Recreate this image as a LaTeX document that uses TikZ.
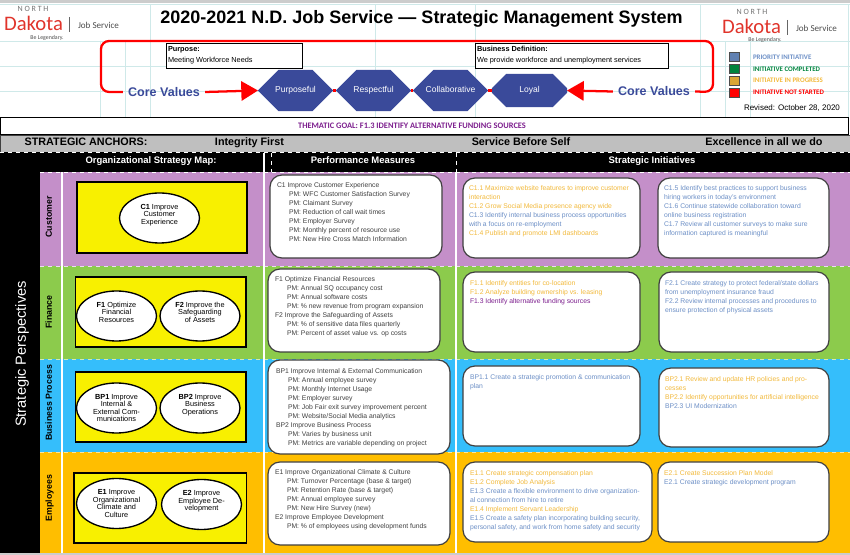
\documentclass[tikz,border=0pt]{standalone}
\usepackage{fontspec}
\setmainfont{Liberation Sans}
\newfontfamily\logofont{Carlito}
\usepackage{xcolor}
\usetikzlibrary{shapes.geometric, shapes.misc, arrows.meta, positioning}

\definecolor{gridCyan}{HTML}{CFE9E9}
\definecolor{coreBlue}{HTML}{3A4A9A}
\definecolor{logoRed}{HTML}{E0342B}
\definecolor{rowPurple}{HTML}{C48FC9}
\definecolor{rowGreen}{HTML}{8CCB4C}
\definecolor{rowBlue}{HTML}{35BEFB}
\definecolor{rowGold}{HTML}{FFBE00}
\definecolor{mapYellow}{HTML}{F8F000}
\definecolor{initBlue}{HTML}{6C8FC6}
\definecolor{initGold}{HTML}{F2B93B}
\definecolor{initGreen}{HTML}{00843D}
\definecolor{goalPurple}{HTML}{7D1F8E}
\definecolor{bandGray}{HTML}{BFBFBF}
\newcommand{\pmi}{\hspace*{9pt}PM: }
\newcommand{\gld}[1]{\textcolor{initGold}{#1}}
\newcommand{\blu}[1]{\textcolor{initBlue}{#1}}
\def\u{0.75pt}

\begin{document}
\begin{tikzpicture}[
        x=0.75pt, y=-0.75pt,
        gridline/.style={draw=gridCyan, line width=0.5pt},
        redline/.style={draw=red, line width=1.7pt},
        corehead/.style={-{Triangle[length=12.5pt, width=14.5pt]}},
        plain/.style={inner sep=0pt, outer sep=0pt},
        band/.style={plain, anchor=north west, minimum width=810*\u},
        headtext/.style={plain, text=white, text height=5.2pt, text depth=1.5pt, font=\fontsize{7.1}{8}\selectfont\bfseries},
        anchortext/.style={plain, text height=6pt, text depth=1.7pt, font=\fontsize{8.1}{9}\selectfont\bfseries},
        rowlabel/.style={plain, rotate=90, text height=4.8pt, text depth=1.4pt, font=\fontsize{6.6}{8}\selectfont\bfseries},
        mapbox/.style={plain, anchor=north west, draw=black, line width=1.2pt, fill=mapYellow},
        goal/.style={plain, ellipse, draw=black, line width=1pt, fill=white, minimum width=80*\u, minimum height=50*\u, align=center, font=\fontsize{5.5}{5.6}\selectfont},
        infobox/.style={plain, anchor=north west, draw=black!75, line width=0.9pt, fill=white, rounded corners=9pt},
        infotext/.style={plain, anchor=north west, align=left, font=\fontsize{5.1}{6.75}\selectfont},
        purposebox/.style={plain, anchor=north west, draw=black, line width=0.7pt, fill=white, minimum height=25*\u},
        corevalue/.style={plain, chamfered rectangle, chamfered rectangle xsep=10.5pt, chamfered rectangle ysep=12.4pt, fill=coreBlue, text=white, text height=4.7pt, text depth=1.4pt, minimum width=56.3pt, minimum height=24.8pt, font=\fontsize{6.4}{7}\selectfont},
        coretext/.style={plain, text=coreBlue, font=\fontsize{9.4}{11}\selectfont\bfseries},
        legendbox/.style={plain, draw=black!70, line width=0.5pt, minimum width=10*\u, minimum height=9*\u},
        legendtext/.style={plain, anchor=west, font=\logofont\fontsize{5.2}{6}\selectfont\bfseries},
        logonorth/.style={plain, text=black!55, font=\logofont\fontsize{6}{6}\selectfont},
        logoname/.style={plain, text=logoRed, font=\logofont\fontsize{15.5}{16}\selectfont},
        logojob/.style={plain, text=black!70, font=\logofont\fontsize{6.8}{8}\selectfont},
        logotag/.style={plain, text=black!70, font=\logofont\fontsize{4.4}{5}\selectfont}
    ]
    \useasboundingbox (0,0) rectangle (850,555);
    \fill[black!20] (0,0) rectangle (850,3.5);
    \fill[black!20] (0,553) rectangle (850,555);

    % Sheet grid
    \foreach \gx in {150,375,475,700}
        \draw[gridline] (\gx,4) -- (\gx,117);
    \foreach \gx in {100,125,725,750}
        \draw[gridline] (\gx,41) -- (\gx,117);
    \foreach \gy in {41,66,91}
        \draw[gridline] (0,\gy) -- (850,\gy);
    \draw[gridline] (0,4) -- (850,4);
    \draw[gridline] (848.5,4) -- (848.5,117);

    % Logos
    \node[logoname] (dakotaL) at (33.5,23) {Dakota};
    \node[logonorth] (northL) at (33,9) {N O R T H};
    \node[logojob] (jobL) at (98.5,25) {Job Service};
    \node[logotag] (legendaryL) at (47,37.5) {Be Legendary.};
    \coordinate (barLa) at (69.5,17);
    \coordinate (barLb) at (69.5,32);
    \draw[black!60, line width=0.5pt] (barLa) -- (barLb);
    \node[logoname] (dakotaR) at (751.5,26) {Dakota};
    \node[logonorth] (northR) at (752,12) {N O R T H};
    \node[logojob] (jobR) at (816.5,28) {Job Service};
    \node[logotag] (legendaryR) at (765,39.5) {Be Legendary.};
    \coordinate (barRa) at (787,20);
    \coordinate (barRb) at (787,35);
    \draw[black!60, line width=0.5pt] (barRa) -- (barRb);

    % Title
    \node[plain, font=\fontsize{13.5}{15}\selectfont\bfseries] (title) at (421.5,19) {2020-2021 N.D. Job Service — Strategic Management System};

    % Core values
    \coordinate (frameTL) at (101,41);
    \coordinate (frameBR) at (713,92);
    \node[corevalue] (purposeful) at (295.5,90.5) {Purposeful};
    \node[corevalue] (respectful) at (373.5,90.5) {Respectful};
    \node[corevalue] (collaborative) at (450.5,90.5) {Collaborative};
    \node[corevalue] (loyal) at (529.5,90.5) {Loyal};
    \node[coretext] (coreL) at (164,92) {Core Values};
    \node[coretext] (coreR) at (654,91.5) {Core Values};
    \draw[redline, rounded corners=6pt] ([xshift=-4]coreL.west) -| (frameTL) -| (frameBR) -- ([xshift=4]coreR.east);
    \draw[redline, corehead] ([xshift=4]coreL.east) -- (purposeful.west);
    \draw[redline, corehead] ([xshift=-4]coreR.west) -- (loyal.east);
    \draw[redline] (purposeful.east) -- (respectful.west);
    \draw[redline] (respectful.east) -- (collaborative.west);
    \draw[redline] (collaborative.east) -- (loyal.west);

    % Purpose and definition
    \node[purposebox, minimum width=136*\u] (purposeBox) at (166,43.5) {};
    \node[infotext, font=\fontsize{5.5}{8.25}\selectfont] (purposeText) at ([shift={(2,3)}]purposeBox.north west) {\textbf{Purpose:}\\Meeting Workforce Needs};
    \node[purposebox, minimum width=193*\u] (definitionBox) at (475,43) {};
    \node[infotext, font=\fontsize{5.5}{8.25}\selectfont] (definitionText) at ([shift={(2,3)}]definitionBox.north west) {\textbf{Business Definition:}\\We provide workforce and unemployment services};

    % Legend
    \node[legendbox, fill=initBlue!90!black] (keyPriority) at (734,57) {};
    \node[legendbox, fill=initGreen] (keyCompleted) at (734,69) {};
    \node[legendbox, fill=initGold!90!black] (keyProgress) at (734,80.5) {};
    \node[legendbox, fill=red] (keyNotStarted) at (734,92.5) {};
    \node[legendtext, text=initBlue, right=19*\u of keyPriority.center] (textPriority) {PRIORITY INITIATIVE};
    \node[legendtext, text=initGreen, right=19*\u of keyCompleted.center] (textCompleted) {INITIATIVE COMPLETED};
    \node[legendtext, text=initGold, right=19*\u of keyProgress.center] (textProgress) {INITIATIVE IN PROGRESS};
    \node[legendtext, text=red, right=19*\u of keyNotStarted.center] (textNotStarted) {INITIATIVE NOT STARTED};
    \node[plain, font=\fontsize{6}{7}\selectfont, anchor=west] (revised) at (744,108) {Revised: October 28, 2020};

    % Bands
    \node[plain, anchor=north west, draw=black, line width=0.7pt, fill=white, minimum width=848*\u, minimum height=17.5*\u] (goalBand) at (0,117) {};
    \node[plain, text=goalPurple, font=\logofont\fontsize{6.3}{7}\selectfont\bfseries] (goalText) at (412,125.5) {THEMATIC GOAL: F1.3 IDENTIFY ALTERNATIVE FUNDING SOURCES};
    \node[plain, anchor=north west, fill=bandGray, draw=black!75, line width=0.7pt, minimum width=850*\u, minimum height=17.5*\u] (anchorBand) at (0,135) {};
    \node[anchortext] (anchorTitle) at (86,143) {STRATEGIC ANCHORS:};
    \node[anchortext] (anchorA) at (249.5,143) {Integrity First};
    \node[anchortext] (anchorB) at (521,143) {Service Before Self};
    \node[anchortext] (anchorC) at (764,143) {Excellence in all we do};
    \node[plain, anchor=north west, fill=black, minimum width=850*\u, minimum height=20*\u] (headBand) at (0,152.5) {};
    \node[headtext] (headMap) at (151,161) {Organizational Strategy Map:};
    \node[headtext] (headMeasures) at (363,161) {Performance Measures};
    \node[headtext] (headInitiatives) at (652,161) {Strategic Initiatives};
    \node[plain, anchor=north west, fill=black, minimum width=40*\u, minimum height=381*\u] (perspectives) at (0,172) {};
    \node[plain, rotate=90, text=white, font=\fontsize{11}{12}\selectfont] (perspectivesText) at (22,354) {Strategic Perspectives};

    % Rows
    \node[band, fill=rowPurple, minimum height=94*\u] (rowCustomer) at (40,172) {};
    \node[band, fill=rowGreen, minimum height=93*\u] (rowFinance) at (40,266) {};
    \node[band, fill=rowBlue, minimum height=93*\u] (rowProcess) at (40,359) {};
    \node[band, fill=rowGold, minimum height=101*\u] (rowEmployees) at (40,452) {};
    \draw[white, dashed, line width=0.7pt] (0,152.5) -- (850,152.5);
    \draw[white, dashed, line width=0.7pt] (40,172) -- (850,172);
    \draw[white!70!rowPurple, dashed, line width=0.5pt] (40,266) -- (850,266);
    \draw[white!60!rowGreen, dashed, line width=0.5pt] (40,359) -- (850,359);
    \draw[white!60!rowGold, dashed, line width=0.5pt] (40,452) -- (850,452);
    \draw[white, line width=0.9pt] (62,172) -- (62,553);
    \draw[white, line width=0.9pt] (264,153) -- (264,553);
    \draw[white, line width=0.9pt] (456,172) -- (456,553);
    \draw[white, dashed, line width=0.7pt] (271.5,153) -- (271.5,172);
    \draw[white, dashed, line width=0.7pt] (456,153) -- (456,172);
    \node[rowlabel] (labelCustomer) at (49.5,217) {Customer};
    \node[rowlabel] (labelFinance) at (49.5,312) {Finance};
    \node[rowlabel] (labelProcess) at (49.5,403) {Business Process};
    \node[rowlabel] (labelEmployees) at (49.5,498) {Employees};

    % Strategy map
    \node[mapbox, minimum width=170*\u, minimum height=71*\u] (mapC) at (77,182) {};
    \node[mapbox, minimum width=170.5*\u, minimum height=70*\u] (mapF) at (75.5,277) {};
    \node[mapbox, minimum width=170.5*\u, minimum height=70*\u] (mapBP) at (75.5,372) {};
    \node[mapbox, minimum width=172.5*\u, minimum height=70*\u] (mapE) at (74,473) {};
    \node[goal] (goalC) at (159.5,218) {\textbf{C1} Improve\\Customer\\Experience\\~};
    \node[goal] (goalF1) at (116.5,316) {\textbf{F1} Optimize\\Financial\\Resources\\~};
    \node[goal] (goalF2) at (200,316) {\textbf{F2} Improve the\\Safeguarding\\of Assets\\~};
    \node[goal] (goalBP1) at (116.5,408) {\textbf{BP1} Improve\\Internal \&\\External Com-\\munications};
    \node[goal] (goalBP2) at (200,408) {\textbf{BP2} Improve\\Business\\Operations\\~};
    \node[goal] (goalE1) at (116.5,503.5) {\textbf{E1} Improve\\Organizational\\Climate and\\Culture};
    \node[goal] (goalE2) at (201.5,504.5) {\textbf{E2} Improve\\Employee De-\\velopment\\~};

    % Performance measures
    \node[infobox, minimum width=172*\u, minimum height=83*\u] (pmC) at (270,175) {};
    \node[infobox, minimum width=172*\u, minimum height=83*\u] (pmF) at (268,269) {};
    \node[infobox, minimum width=182*\u, minimum height=94*\u] (pmBP) at (268,360) {};
    \node[infobox, minimum width=182*\u, minimum height=83*\u] (pmE) at (268,462) {};
    \node[infotext, text=black!75] (pmCtext) at ([shift={(7,8)}]pmC.north west) {C1 Improve Customer Experience\\\pmi WFC Customer Satisfaction Survey\\\pmi Claimant Survey\\\pmi Reduction of call wait times\\\pmi Employer Survey\\\pmi Monthly percent of resource use\\\pmi New Hire Cross Match Information};
    \node[infotext, text=black!75] (pmFtext) at ([shift={(7,8)}]pmF.north west) {F1 Optimize Financial Resources\\\pmi Annual SQ occupancy cost\\\pmi Annual software costs\\\pmi \% new revenue from program expansion\\F2 Improve the Safeguarding of Assets\\\pmi \% of sensitive data files quarterly\\\pmi Percent of asset value vs. op costs};
    \node[infotext, text=black!75] (pmBPtext) at ([shift={(8,9)}]pmBP.north west) {BP1 Improve Internal \& External Communication\\\pmi Annual employee survey\\\pmi Monthly Internet Usage\\\pmi Employer survey\\\pmi Job Fair exit survey improvement percent\\\pmi Website/Social Media analytics\\BP2 Improve Business Process\\\pmi Varies by business unit\\\pmi Metrics are variable depending on project};
    \node[infotext, text=black!75] (pmEtext) at ([shift={(7,8)}]pmE.north west) {E1 Improve Organizational Climate \& Culture\\\pmi Turnover Percentage (base \& target)\\\pmi Retention Rate (base \& target)\\\pmi Annual employee survey\\\pmi New Hire Survey (new)\\E2 Improve Employee Development\\\pmi \% of employees using development funds};

    % Strategic initiatives
    \node[infobox, minimum width=177*\u, minimum height=80*\u] (initC1) at (463,178) {};
    \node[infobox, minimum width=171*\u, minimum height=80*\u] (initC2) at (658,178) {};
    \node[infobox, minimum width=177*\u, minimum height=80*\u] (initF1) at (463,272) {};
    \node[infobox, minimum width=170*\u, minimum height=80*\u] (initF2) at (659,272) {};
    \node[infobox, minimum width=177*\u, minimum height=80*\u] (initBP1) at (463,366) {};
    \node[infobox, minimum width=170*\u, minimum height=79*\u] (initBP2) at (659,368) {};
    \node[infobox, minimum width=189*\u, minimum height=80*\u] (initE1) at (463,462) {};
    \node[infobox, minimum width=171*\u, minimum height=80*\u] (initE2) at (658,462) {};
    \node[infotext] (initC1text) at ([shift={(6,8)}]initC1.north west) {\gld{C1.1 Maximize website features to improve customer}\\\gld{interaction}\\\gld{C1.2 Grow Social Media presence agency wide}\\\blu{C1.3 Identify internal business process opportunities}\\\blu{with a focus on re-employment}\\\gld{C1.4 Publish and promote LMI dashboards}};
    \node[infotext, text=initBlue] (initC2text) at ([shift={(6,8)}]initC2.north west) {C1.5 Identify best practices to support business\\hiring workers in today's environment\\C1.6 Continue statewide collaboration toward\\online business registration\\C1.7 Review all customer surveys to make sure\\information captured is meaningful};
    \node[infotext] (initF1text) at ([shift={(7,9)}]initF1.north west) {\gld{F1.1 Identify entities for co-location}\\\gld{F1.2 Analyze building ownership vs. leasing}\\\textcolor{goalPurple}{F1.3 Identify alternative funding sources}};
    \node[infotext, text=initBlue] (initF2text) at ([shift={(6,9)}]initF2.north west) {F2.1 Create strategy to protect federal/state dollars\\from unemployment insurance fraud\\F2.2 Review internal processes and procedures to\\ensure protection of physical assets};
    \node[infotext, text=initBlue] (initBP1text) at ([shift={(7,9)}]initBP1.north west) {BP1.1 Create a strategic promotion \& communication\\plan};
    \node[infotext] (initBP2text) at ([shift={(6,9)}]initBP2.north west) {\gld{BP2.1 Review and update HR policies and pro-}\\\gld{cesses}\\\gld{BP2.2 Identify opportunities for artificial intelligence}\\\blu{BP2.3 UI Modernization}};
    \node[infotext] (initE1text) at ([shift={(7,9)}]initE1.north west) {\gld{E1.1 Create strategic compensation plan}\\\gld{E1.2 Complete Job Analysis}\\\blu{E1.3 Create a flexible environment to drive organization-}\\\blu{al connection from hire to retire}\\\gld{E1.4 Implement Servant Leadership}\\\blu{E1.5 Create a safety plan incorporating building security,}\\\blu{personal safety, and work from home safety and security}};
    \node[infotext] (initE2text) at ([shift={(6,9)}]initE2.north west) {\gld{E2.1 Create Succession Plan Model}\\\blu{E2.1 Create strategic development program}};
\end{tikzpicture}
\end{document}
